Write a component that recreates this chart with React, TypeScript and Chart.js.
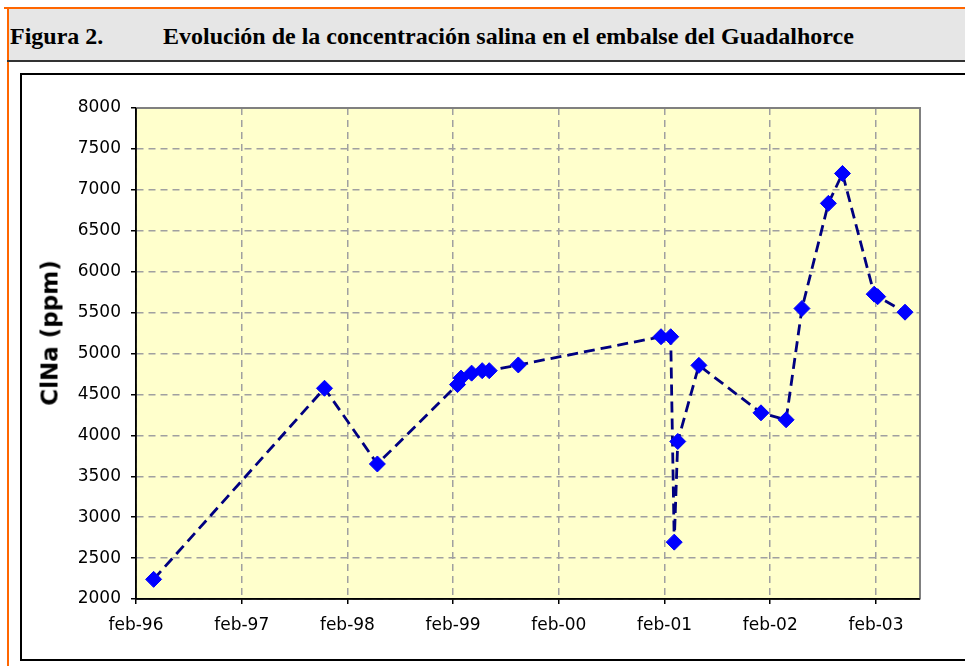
import React, { useEffect, useRef } from "react";
import { Chart, registerables } from "chart.js";

Chart.register(...registerables);

// Tick labels on the date axis (every 12 months starting feb-96)
const tickLabels = ["feb-96", "feb-97", "feb-98", "feb-99", "feb-00", "feb-01", "feb-02", "feb-03"];
const tickMonths = [0, 12, 24, 36, 48, 60, 72, 84];

// Sample dates, in months after feb-96
const sampleMonths = [2.0, 21.4, 27.4, 36.5, 36.9, 38.1, 39.3, 40.1, 43.4, 59.6, 60.7, 61.1, 61.5, 63.9, 70.95, 73.8, 75.6, 78.6, 80.2, 83.8, 84.2, 87.3];
// ClNa concentration (ppm)
const clnaValues = [2240, 4575, 3650, 4620, 4700, 4760, 4790, 4790, 4860, 5205, 5205, 2695, 3925, 4855, 4275, 4190, 5550, 6835, 7200, 5725, 5695, 5505];

const yMin = 2000;
const yMax = 8000;
const yStep = 500;
const xMax = 89;

const tickFont = { family: "'DejaVu Sans', Verdana, sans-serif", size: 17 };

export default function App() {
  const ref = useRef<HTMLCanvasElement>(null);

  useEffect(() => {
    if (!ref.current) return;
    const plotPlugin = {
      id: "plotFrame",
      beforeDraw(chart: any) {
        const { ctx, chartArea } = chart;
        const { left, top, right, bottom } = chartArea;
        ctx.save();
        ctx.fillStyle = "#FFFFCC";
        ctx.fillRect(left, top, right - left, bottom - top);
        ctx.restore();
      },
      beforeDatasetsDraw(chart: any) {
        const { ctx, chartArea } = chart;
        const { left, top, right, bottom } = chartArea;
        ctx.save();
        ctx.setLineDash([]);
        ctx.strokeStyle = "#808080";
        ctx.lineWidth = 2;
        ctx.beginPath();
        ctx.moveTo(left, top);
        ctx.lineTo(right, top);
        ctx.lineTo(right, bottom);
        ctx.stroke();
        ctx.strokeStyle = "#000000";
        ctx.lineWidth = 1.5;
        ctx.beginPath();
        ctx.moveTo(left, top);
        ctx.lineTo(left, bottom);
        ctx.lineTo(right, bottom);
        ctx.stroke();
        ctx.restore();
      },
    };

    const chart = new Chart(ref.current, {
      type: "line",
      data: {
        datasets: [
          {
            label: "ClNa (ppm)",
            data: sampleMonths.map((m, i) => ({ x: m, y: clnaValues[i] })),
            borderColor: "#000080",
            borderWidth: 2.8,
            borderDash: [11, 6],
            tension: 0,
            fill: false,
            pointStyle: "rectRot",
            pointRadius: 8,
            pointHoverRadius: 8,
            pointBackgroundColor: "#0000FF",
            pointBorderColor: "#0000FF",
            pointBorderWidth: 1,
          },
        ],
      },
      options: {
        responsive: false,
        animation: false,
        events: [],
        layout: { padding: { left: 0, top: 33, right: 45, bottom: 0 } },
        plugins: {
          legend: { display: false },
          tooltip: { enabled: false },
          title: { display: false },
        },
        scales: {
          x: {
            type: "linear",
            min: 0,
            max: xMax,
            afterBuildTicks: (scale: any) => {
              scale.ticks = tickMonths.map((v) => ({ value: v }));
            },
            afterFit: (scale: any) => {
              scale.height = 60;
            },
            ticks: {
              autoSkip: false,
              maxRotation: 0,
              minRotation: 0,
              padding: 11,
              color: "#000000",
              font: tickFont,
              callback: (v: any) => {
                const idx = tickMonths.indexOf(Number(v));
                return idx >= 0 ? tickLabels[idx] : "";
              },
            },
            grid: {
              color: "#a0a0a0",
              lineWidth: 1.5,
              tickLength: 5,
              tickColor: "#000000",
              tickWidth: 1.5,
            },
            border: { display: true, color: "#000000", width: 1.5, dash: [7, 5] },
          },
          y: {
            min: yMin,
            max: yMax,
            afterFit: (scale: any) => {
              scale.width = 114;
            },
            ticks: {
              stepSize: yStep,
              padding: 10,
              color: "#000000",
              font: tickFont,
              callback: (v: any) => String(v),
            },
            grid: {
              color: "#a0a0a0",
              lineWidth: 1.5,
              tickLength: 5,
              tickColor: "#000000",
              tickWidth: 1.5,
            },
            border: { display: true, color: "#000000", width: 1.5, dash: [7, 5] },
          },
        },
      },
      plugins: [plotPlugin],
    });
    return () => chart.destroy();
  }, []);

  const headerFont = {
    position: "absolute" as const,
    top: 24,
    fontFamily: "'Liberation Serif', 'Times New Roman', serif",
    fontWeight: "bold" as const,
    fontSize: 24,
    lineHeight: "24px",
    whiteSpace: "nowrap" as const,
    color: "#000",
  };

  return (
    <div style={{ position: "absolute", left: 0, top: 0, width: 965, height: 666, overflow: "hidden", background: "#ffffff" }}>
      {/* orange frame lines */}
      <div style={{ position: "absolute", left: 4, top: 7, width: 961, height: 2, background: "#FF6600" }} />
      <div style={{ position: "absolute", left: 7, top: 7, width: 2, height: 659, background: "#FF6600" }} />
      {/* header band */}
      <div style={{ position: "absolute", left: 9, top: 9, width: 956, height: 51, background: "#E6E6E6" }} />
      <div style={{ position: "absolute", left: 7, top: 60, width: 958, height: 2, background: "#333333" }} />
      <div style={{ ...headerFont, left: 10 }}>Figura 2.</div>
      <div style={{ ...headerFont, left: 163 }}>
        Evolución de la concentración salina en el embalse del Guadalhorce
      </div>
      {/* chart box */}
      <div style={{ position: "absolute", left: 20, top: 73, width: 960, height: 584, border: "2px solid #000", boxSizing: "content-box" }} />
      <canvas
        ref={ref}
        width={943}
        height={584}
        style={{ position: "absolute", left: 22, top: 75, width: 943, height: 584 }}
      />
      <div
        style={{
          position: "absolute",
          left: 50,
          top: 333,
          transform: "translate(-50%, -50%) rotate(-90deg)",
          fontFamily: "'DejaVu Sans', Verdana, sans-serif",
          fontWeight: "bold",
          fontSize: 23,
          lineHeight: "27px",
          whiteSpace: "nowrap",
          color: "#000",
        }}
      >
        ClNa (ppm)
      </div>
    </div>
  );
}
